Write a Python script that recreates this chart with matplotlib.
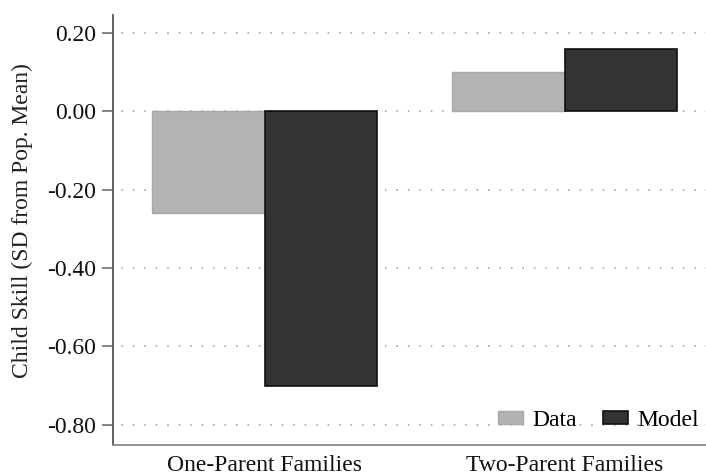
import matplotlib
matplotlib.use("Agg")
import matplotlib.pyplot as plt
from matplotlib.patches import Patch
import numpy as np

categories = ["One-Parent Families", "Two-Parent Families"]
series_names = ["Data", "Model"]
data_values = [-0.26, 0.10]
model_values = [-0.70, 0.16]
yticks = [0.20, 0.00, -0.20, -0.40, -0.60, -0.80]
ylabel = "Child Skill (SD from Pop. Mean)"

plt.rcParams["font.family"] = ["Liberation Serif", "DejaVu Serif"]

fig = plt.figure(figsize=(7.06, 4.75), dpi=100)
ax = fig.add_axes([113/706, 30/475, 1 - 113/706, (445-15)/475])

x = np.arange(len(categories))
w = 0.375
ax.bar(x - w/2, data_values, width=w, color="#b3b3b3", edgecolor="#a8a8a8", linewidth=1.0, zorder=3)
ax.bar(x + w/2, model_values, width=w, color="#333333", edgecolor="#111111", linewidth=1.2, zorder=3)

ax.set_xlim(-0.506, 1.471)
ax.set_ylim(-0.852, 0.2465)
ax.set_yticks(yticks)
ax.set_yticklabels([f"{v:.2f}" for v in yticks])
ax.set_xticks(x)
ax.set_xticklabels(categories)

for v in yticks:
    ax.axhline(v, color="#9a9a9a", linewidth=1.1, linestyle=(2, (1, 6.5)), zorder=1)

ax.tick_params(axis="y", direction="out", length=8, width=1.1, color="#666666",
               labelsize=17, pad=4, labelcolor="#111111")
ax.tick_params(axis="x", length=0, labelsize=17, pad=7, labelcolor="#111111")
ax.set_ylabel(ylabel, fontsize=17, color="#222222")
ax.yaxis.set_label_coords(-0.135, 0.521)

for s in ["top", "right"]:
    ax.spines[s].set_visible(False)
ax.spines["left"].set_color("#555555")
ax.spines["left"].set_linewidth(1.3)
ax.spines["bottom"].set_color("#888888")
ax.spines["bottom"].set_linewidth(1.3)

handles = [Patch(facecolor="#b3b3b3", edgecolor="#a8a8a8", linewidth=1.0),
           Patch(facecolor="#333333", edgecolor="#111111", linewidth=1.2)]
ax.legend(handles, series_names, loc="lower right", ncol=2, frameon=False,
          fontsize=17, handlelength=1.05, handleheight=0.45, handletextpad=0.4,
          columnspacing=1.1, borderaxespad=0.2, bbox_to_anchor=(1.012, 0.0))

fig.savefig("out.png", dpi=100, facecolor="white")
